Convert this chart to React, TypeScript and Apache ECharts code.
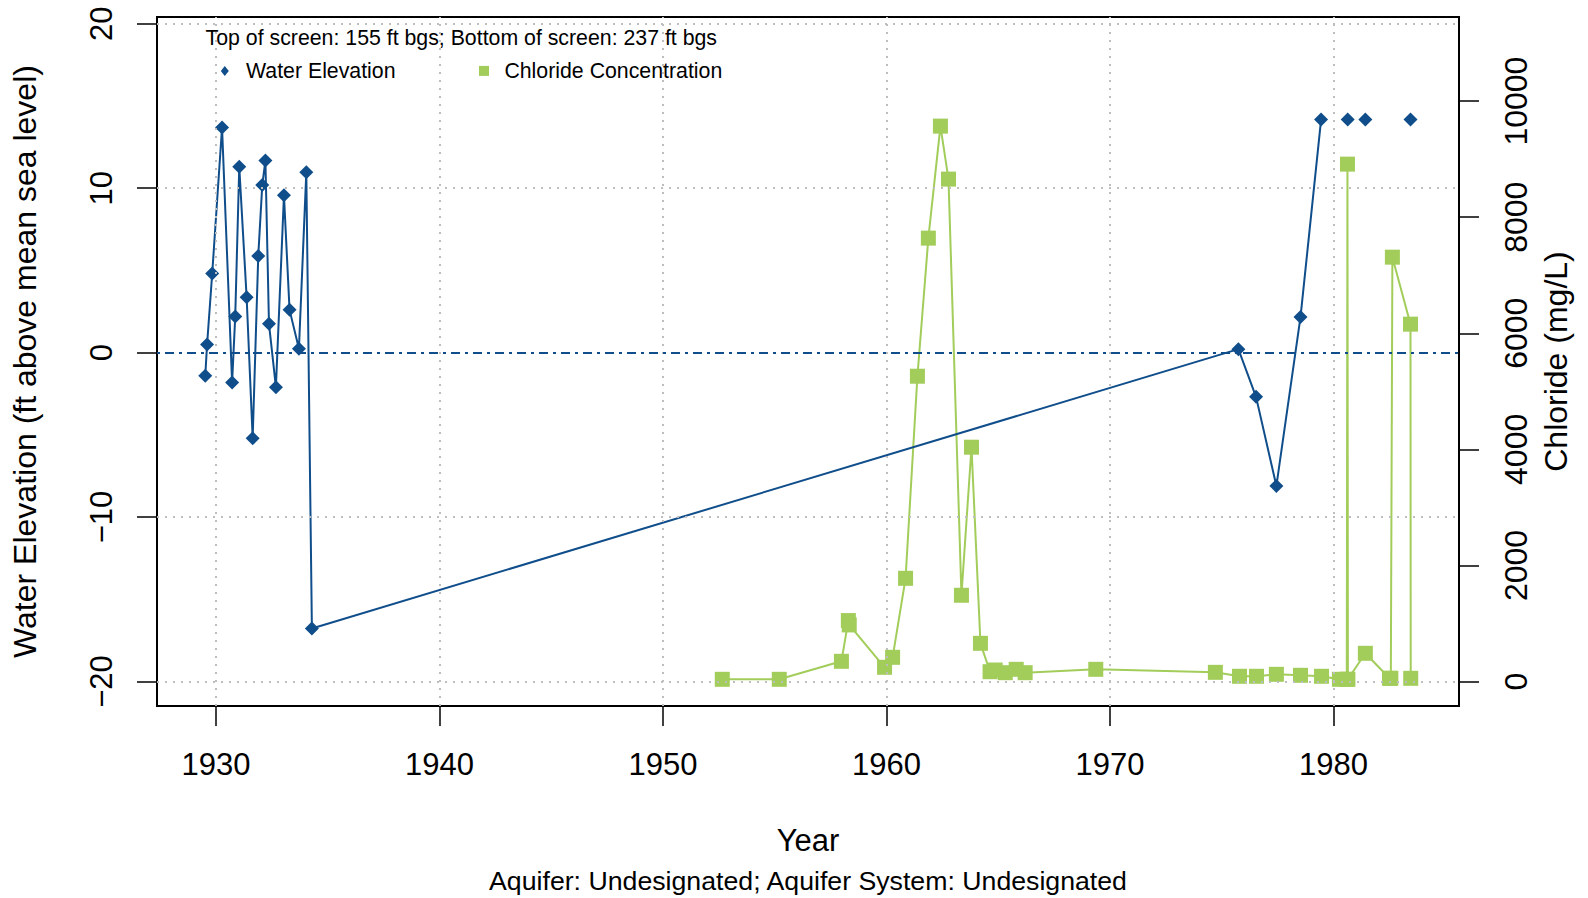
import React, { useEffect, useRef } from "react";
import * as echarts from "echarts";

// ---- data ----
const waterYears = [
  1929.52, 1929.6, 1929.83, 1930.27, 1930.72, 1930.86, 1931.04, 1931.37, 1931.64, 1931.89,
  1932.07, 1932.21, 1932.37, 1932.68, 1933.04, 1933.29, 1933.71, 1934.04, 1934.29,
  1975.74, 1976.53, 1977.44, 1978.52, 1979.44,
];
const waterLevels = [
  -1.4, 0.49, 4.81, 13.69, -1.82, 2.19, 11.3, 3.37, -5.21, 5.88,
  10.2, 11.68, 1.75, -2.1, 9.57, 2.6, 0.24, 10.97, -16.78,
  0.21, -2.69, -8.11, 2.17, 14.17,
];
const waterIsolatedYears = [1980.63, 1981.42, 1983.44];
const waterIsolatedLevels = [14.17, 14.17, 14.17];

const chlorideYears = [
  1952.65, 1955.2, 1957.98, 1958.29, 1958.33, 1959.91, 1960.27, 1960.85, 1961.38, 1961.87,
  1962.41, 1962.77, 1963.35, 1963.8, 1964.2, 1964.63, 1964.86, 1965.31, 1965.8, 1966.2,
  1969.36, 1974.71, 1975.79, 1976.55, 1977.44, 1978.52, 1979.46, 1980.26, 1980.59, 1980.62,
  1980.64, 1981.42, 1982.5, 1982.56, 1982.63, 1983.44, 1983.45,
];
const chlorideValues = [
  38, 38, 348, 1050, 975, 245, 417, 1778, 5260, 7639,
  9569, 8656, 1486, 4037, 658, 169, 198, 152, 210, 152,
  210, 158, 90, 90, 124, 107, 90, 38, 38, 8914,
  38, 486, 55, 55, 7311, 6157, 55,
];

const yearTicks = [1930, 1940, 1950, 1960, 1970, 1980];
const elevationTicks = [-20, -10, 0, 10, 20];
const elevationGridLines = [-20, -10, 10, 20];
const chlorideTicks = [0, 2000, 4000, 6000, 8000, 10000];

const xTitle = "Year";
const yLeftTitle = "Water Elevation (ft above mean sea level)";
const yRightTitle = "Chloride (mg/L)";
const subTitle = "Aquifer: Undesignated; Aquifer System: Undesignated";
const screenNote = "Top of screen: 155 ft bgs; Bottom of screen: 237 ft bgs";
const legendWater = "Water Elevation";
const legendChloride = "Chloride Concentration";

const FONT = '"Liberation Sans", Arial, Helvetica, sans-serif';
const BLUE = "#104E8B";
const GREEN = "#A2CD5A";
const GRIDGRAY = "#BEBEBE";

export default function App() {
  const ref = useRef<HTMLDivElement>(null);

  useEffect(() => {
    if (!ref.current) return;
    const chart = echarts.init(ref.current, null, { renderer: "svg" });

    const plain = (v: number) => String(v).replace("-", "\u2212");

    const option: any = {
      animation: false,
      backgroundColor: "#ffffff",
      textStyle: { fontFamily: FONT },
      grid: {
        left: 157,
        top: 17,
        width: 1302,
        height: 689,
        show: true,
        borderColor: "#000",
        borderWidth: 2,
        backgroundColor: "transparent",
        containLabel: false,
      },
      xAxis: {
        type: "value",
        min: 1927.36,
        max: 1985.61,
        axisLine: { show: false, onZero: false },
        axisTick: {
          show: true,
          customValues: yearTicks,
          length: 20,
          lineStyle: { color: "#000", width: 1.5 },
        },
        axisLabel: {
          customValues: yearTicks,
          margin: 43,
          fontSize: 31,
          color: "#000",
          fontFamily: FONT,
          formatter: (v: number) => plain(v),
        },
        splitLine: { show: false },
        name: xTitle,
        nameLocation: "middle",
        nameGap: 119,
        nameTextStyle: { fontSize: 31, color: "#000", fontFamily: FONT },
      },
      yAxis: [
        {
          type: "value",
          position: "left",
          min: -21.49,
          max: 20.41,
          axisLine: { show: false, onZero: false },
          axisTick: {
            show: true,
            customValues: elevationTicks,
            length: 20,
            lineStyle: { color: "#000", width: 1.5 },
          },
          axisLabel: {
            customValues: elevationTicks,
            rotate: 90,
            margin: 40,
            fontSize: 31,
            color: "#000",
            fontFamily: FONT,
            formatter: (v: number) => plain(v),
          },
          splitLine: { show: false },
          name: yLeftTitle,
          nameLocation: "middle",
          nameGap: 116,
          nameTextStyle: { fontSize: 32, color: "#000", fontFamily: FONT },
        },
        {
          type: "value",
          position: "right",
          min: -422,
          max: 11449,
          axisLine: { show: false, onZero: false },
          axisTick: {
            show: true,
            customValues: chlorideTicks,
            length: 20,
            lineStyle: { color: "#000", width: 1.5 },
          },
          axisLabel: {
            customValues: chlorideTicks,
            rotate: 90,
            margin: 41,
            fontSize: 32,
            color: "#000",
            fontFamily: FONT,
            formatter: (v: number) => plain(v),
          },
          splitLine: { show: false },
          name: yRightTitle,
          nameLocation: "middle",
          nameGap: 81,
          nameTextStyle: { fontSize: 32, color: "#000", fontFamily: FONT },
        },
      ],
      series: [
        {
          type: "line",
          name: "grid",
          xAxisIndex: 0,
          yAxisIndex: 0,
          data: [[1930, 0]],
          showSymbol: false,
          silent: true,
          z: 1,
          lineStyle: { opacity: 0 },
          markLine: {
            silent: true,
            symbol: ["none", "none"],
            label: { show: false },
            lineStyle: { color: GRIDGRAY, type: [2, 6], width: 2 },
            emphasis: { disabled: true },
            data: [
              ...yearTicks.map((v) => ({ xAxis: v })),
              ...elevationGridLines.map((v) => ({ yAxis: v })),
              {
                yAxis: 0,
                lineStyle: { color: BLUE, type: [3, 5, 9, 5], width: 2 },
              },
            ],
          },
        },
        {
          type: "line",
          name: legendChloride,
          xAxisIndex: 0,
          yAxisIndex: 1,
          z: 3,
          data: chlorideYears.map((y, i) => [y, chlorideValues[i]]),
          symbol: "rect",
          symbolSize: 15,
          showSymbol: true,
          itemStyle: { color: GREEN, opacity: 1 },
          lineStyle: { color: GREEN, width: 2 },
          emphasis: { disabled: true },
          silent: true,
        },
        {
          type: "line",
          name: legendWater,
          xAxisIndex: 0,
          yAxisIndex: 0,
          z: 4,
          data: waterYears.map((y, i) => [y, waterLevels[i]]),
          symbol: "diamond",
          symbolSize: 14,
          showSymbol: true,
          itemStyle: { color: BLUE, opacity: 1 },
          lineStyle: { color: BLUE, width: 2 },
          emphasis: { disabled: true },
          silent: true,
        },
        {
          type: "scatter",
          name: legendWater,
          xAxisIndex: 0,
          yAxisIndex: 0,
          z: 4,
          data: waterIsolatedYears.map((y, i) => [y, waterIsolatedLevels[i]]),
          symbol: "diamond",
          symbolSize: 14,
          itemStyle: { color: BLUE, opacity: 1 },
          emphasis: { disabled: true },
          silent: true,
        },
      ],
      graphic: [
        {
          type: "text",
          x: 205.6,
          y: 37.5,
          style: {
            text: screenNote,
            fill: "#000",
            font: `21.3px ${FONT}`,
            textAlign: "left",
            textVerticalAlign: "middle",
          },
        },
        {
          type: "polygon",
          shape: {
            points: [
              [224.8, 65.9],
              [228.8, 70.9],
              [224.8, 75.9],
              [220.8, 70.9],
            ],
          },
          style: { fill: BLUE },
        },
        {
          type: "text",
          x: 246,
          y: 70.9,
          style: {
            text: legendWater,
            fill: "#000",
            font: `21.3px ${FONT}`,
            textAlign: "left",
            textVerticalAlign: "middle",
          },
        },
        {
          type: "rect",
          shape: { x: 479, y: 65.9, width: 10, height: 10 },
          style: { fill: GREEN },
        },
        {
          type: "text",
          x: 504.4,
          y: 70.9,
          style: {
            text: legendChloride,
            fill: "#000",
            font: `21.3px ${FONT}`,
            textAlign: "left",
            textVerticalAlign: "middle",
          },
        },
        {
          type: "text",
          x: 808,
          y: 881,
          style: {
            text: subTitle,
            fill: "#000",
            font: `26.7px ${FONT}`,
            textAlign: "center",
            textVerticalAlign: "middle",
          },
        },
      ],
    };

    chart.setOption(option);
    return () => {
      chart.dispose();
    };
  }, []);

  return (
    <div
      ref={ref}
      style={{
        position: "absolute",
        left: 0,
        top: 0,
        width: 1588,
        height: 898,
        background: "#fff",
      }}
    />
  );
}
